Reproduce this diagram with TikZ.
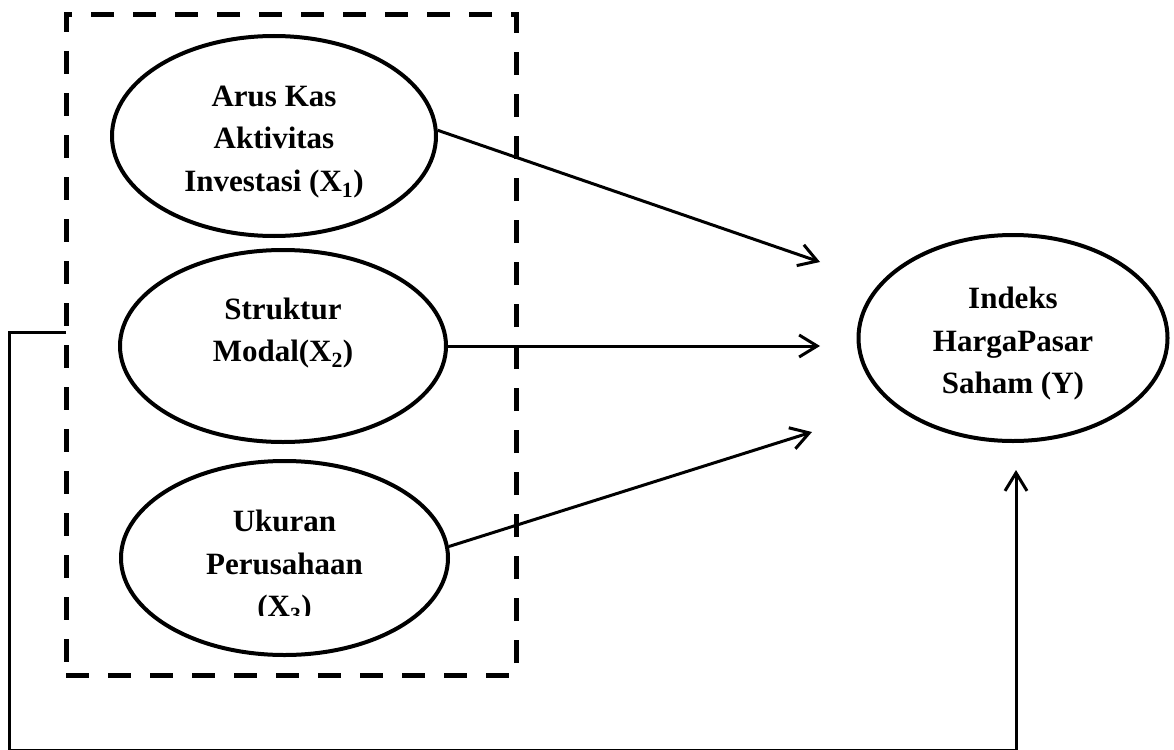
\documentclass[tikz,border=0pt]{standalone}
\usepackage{fontspec}
\setmainfont{Liberation Serif}
\usetikzlibrary{shapes.geometric,arrows.meta}
\tikzset{
  oval/.style={draw, ellipse, line width=4pt, inner sep=0pt},
  lbl/.style={align=center, inner sep=0pt, font=\fontsize{31}{42.5}\selectfont\bfseries},
  conn/.style={line width=3pt, -{Straight Barb[length=18pt,width=22pt,line width=3pt]}},
  dashbox/.style={draw, line width=5pt, dash pattern=on 23pt off 19pt, inner sep=0pt},
  fbline/.style={line width=3pt}
}
\begin{document}
\begin{tikzpicture}[x=1pt,y=-1pt]
\useasboundingbox (0,0) rectangle (1174,749);
% dashed grouping box
\node[dashbox, minimum width=450pt, minimum height=660pt] (box) at (291,345) {};
% ellipses
\node[oval, minimum width=324pt, minimum height=200pt] (x1) at (274,136) {};
\node[oval, minimum width=326pt, minimum height=192pt] (x2) at (283,346) {};
\node[oval, minimum width=327pt, minimum height=194pt] (x3) at (284.5,558) {};
\node[oval, minimum width=309pt, minimum height=206pt] (y) at (1013,338) {};
% labels
\node[lbl] (t1) at (274,142) {Arus Kas\\Aktivitas\\Investasi (X\textsubscript{1})};
\node[lbl] (t2) at (283,333) {Struktur\\Modal(X\textsubscript{2})};
\begin{scope}
\clip (100,480) rectangle (470,615);
\node[lbl] (t3) at (284.5,567) {Ukuran\\Perusahaan\\(X\textsubscript{3})};
\end{scope}
\node[lbl] (ty) at (1013,344) {Indeks\\HargaPasar\\Saham (Y)};
% arrow end points
\coordinate (e1) at (820,262);
\coordinate (e2) at (820,346);
\coordinate (e3) at (812,432);
\coordinate (e4) at (1016,470);
\coordinate (fb) at (66,332);
\coordinate (bl) at (9,750.3);
% connectors
\draw[conn] (x1.2) -- (e1);
\draw[conn] (x2.east) -- (e2);
\draw[conn] (x3.4) -- (e3);
\draw[fbline] (fb) -| (bl);
\draw[conn] (bl) -| (e4);
\end{tikzpicture}
\end{document}
